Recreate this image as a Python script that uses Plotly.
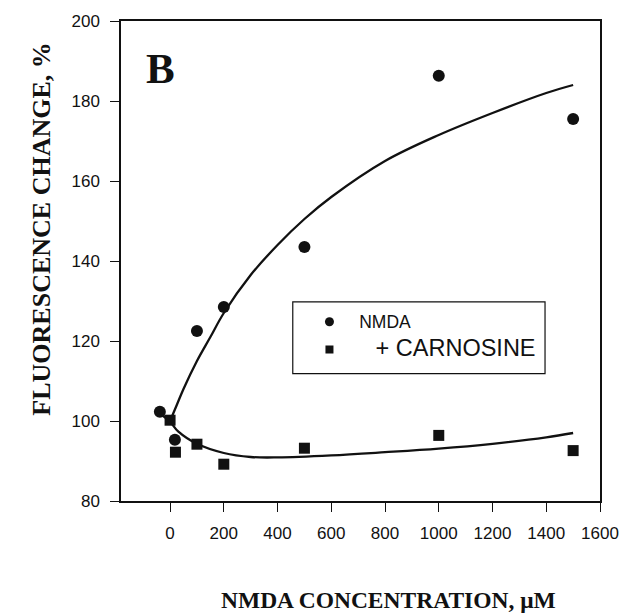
import plotly.graph_objects as go

# Data points
nmda_x = [-38, 18, 100, 200, 500, 1000, 1500]
nmda_y = [102.3, 95.3, 122.5, 128.5, 143.5, 186.3, 175.5]

carn_x = [0, 20, 100, 200, 500, 1000, 1500]
carn_y = [100.2, 92.2, 94.2, 89.2, 93.2, 96.4, 92.6]

# Fitted curves
nmda_fit_x = [0, 25, 50, 100, 150, 200, 300, 400, 500, 600, 800, 1000, 1200, 1400, 1500]
nmda_fit_y = [100, 104, 108, 115, 121, 127, 136.5, 144, 150.5, 156, 165, 171.5, 177, 182, 184]

carn_fit_x = [-40, 0, 30, 100, 200, 300, 400, 600, 800, 1000, 1200, 1400, 1500]
carn_fit_y = [102, 99.8, 97.4, 94.3, 92.0, 91.0, 90.9, 91.4, 92.2, 93.1, 94.3, 95.9, 97.0]

x_ticks = [0, 200, 400, 600, 800, 1000, 1200, 1400, 1600]
y_ticks = [80, 100, 120, 140, 160, 180, 200]

legend_names = ["NMDA", "+ CARNOSINE"]

INK = "#111111"

# plot area in pixels (for converting positions to paper coordinates)
L, R, T, B = 121, 609, 19, 501
def px(x):
    return (x - L) / (R - L)
def py(y):
    return (B - y) / (B - T)

fig = go.Figure()

fig.add_trace(go.Scatter(x=nmda_fit_x, y=nmda_fit_y, mode="lines",
                         line=dict(color=INK, width=2.3, shape="spline"),
                         showlegend=False, hoverinfo="skip"))
fig.add_trace(go.Scatter(x=carn_fit_x, y=carn_fit_y, mode="lines",
                         line=dict(color=INK, width=2.3, shape="spline"),
                         showlegend=False, hoverinfo="skip"))
fig.add_trace(go.Scatter(x=nmda_x, y=nmda_y, mode="markers",
                         marker=dict(symbol="circle", size=12, color=INK),
                         showlegend=False))
fig.add_trace(go.Scatter(x=carn_x, y=carn_y, mode="markers",
                         marker=dict(symbol="square", size=11, color=INK),
                         showlegend=False))

# legend entries
fig.add_trace(go.Scatter(x=[None], y=[None], mode="markers", legendgroup="a",
                         marker=dict(symbol="circle", size=9, color=INK),
                         name='<span style="font-size:17.5px">\u00a0\u00a0' + legend_names[0] + '</span>'))
fig.add_trace(go.Scatter(x=[None], y=[None], mode="markers", legendgroup="b",
                         marker=dict(symbol="square", size=8, color=INK),
                         name='<span style="font-size:23.5px">\u00a0\u00a0\u00a0\u00a0' + legend_names[1] + '</span>'))

axis_common = dict(
    showline=True, linecolor=INK, linewidth=1.5, mirror=True,
    ticks="outside", ticklen=9, tickwidth=1.2, tickcolor=INK,
    showgrid=False, zeroline=False,
    tickfont=dict(family="Liberation Sans", size=17, color=INK),
)

fig.update_xaxes(range=[-182.6, 1600], tickvals=x_ticks,
                 ticktext=[str(v) for v in x_ticks], ticklabelstandoff=7,
                 **axis_common)
fig.update_yaxes(range=[80, 200], tickvals=y_ticks,
                 ticktext=[str(v) for v in y_ticks], ticklabelstandoff=7,
                 **axis_common)

fig.add_annotation(text="<b>FLUORESCENCE CHANGE, %</b>", xref="paper", yref="paper",
                   x=px(40), y=py(228), textangle=-90, showarrow=False,
                   xanchor="center", yanchor="middle",
                   font=dict(family="Liberation Serif", size=26, color=INK))
fig.add_annotation(text="<b>NMDA CONCENTRATION, \u03bcM</b>", xref="paper", yref="paper",
                   x=px(393.5), y=py(600), showarrow=False,
                   xanchor="center", yanchor="middle",
                   font=dict(family="Liberation Serif", size=23.5, color=INK))
fig.add_annotation(text="<b>B</b>", xref="paper", yref="paper",
                   x=px(161.5), y=py(67), showarrow=False,
                   xanchor="center", yanchor="middle",
                   font=dict(family="Liberation Serif", size=43, color=INK))

# legend frame
fig.add_shape(type="rect", xref="paper", yref="paper",
              x0=px(296), x1=px(553), y0=py(373), y1=py(301),
              line=dict(color=INK, width=1.2), fillcolor="rgba(0,0,0,0)", layer="above")

fig.update_layout(
    width=631, height=616,
    margin=dict(l=L, r=631 - R, t=T, b=616 - B),
    paper_bgcolor="white", plot_bgcolor="white",
    legend=dict(x=px(313), y=py(304), xanchor="left", yanchor="top",
                borderwidth=0, bgcolor="rgba(0,0,0,0)",
                font=dict(family="Liberation Sans", size=16, color=INK),
                itemwidth=30, tracegroupgap=4),
)

fig.write_html("out.html")
